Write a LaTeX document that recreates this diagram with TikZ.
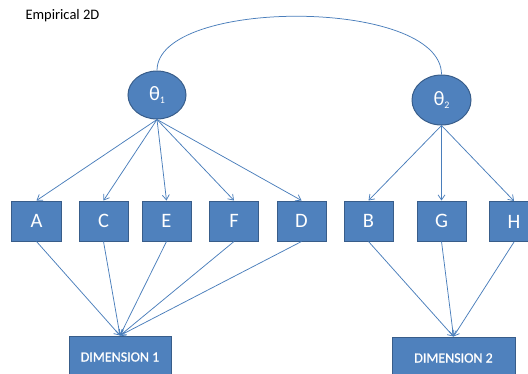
\documentclass[tikz,border=0pt]{standalone}
\usepackage{fontspec}
\setmainfont{Carlito}
\newfontfamily\heavyfont[FakeBold=0.8]{Carlito}
\usetikzlibrary{arrows.meta,shapes.geometric}
\definecolor{fillblue}{HTML}{4F81BD}
\definecolor{edgeblue}{HTML}{385D8A}
\definecolor{lineblue}{HTML}{4A7EBB}
\tikzset{
  boxnode/.style={draw=edgeblue, fill=fillblue, line width=1bp, minimum width=49bp, minimum height=40bp, inner sep=0pt, text=white, font=\fontsize{20.5bp}{22bp}\selectfont},
  latent/.style={ellipse, draw=edgeblue, fill=fillblue, line width=1bp, minimum width=58bp, minimum height=48bp, inner sep=0pt, text=white, font=\fontsize{20.5bp}{22bp}\selectfont},
  dimnode/.style={draw=edgeblue, fill=fillblue, line width=1bp, minimum height=42bp, inner sep=0pt, text=white, font=\heavyfont\fontsize{14bp}{16bp}\selectfont},
  link/.style={draw=lineblue, line width=0.75bp, -{Straight Barb[length=5bp,width=7bp]}},
}
\begin{document}
\begin{tikzpicture}[x=1bp,y=-1bp]
\useasboundingbox (0,0) rectangle (528,373);
\node[anchor=base west, font=\fontsize{14.5bp}{16bp}\selectfont] (title) at (22,19) {Empirical 2D};
\node[latent] (t1) at (157,95) {θ\raisebox{-0.3ex}{\fontsize{10bp}{11bp}\selectfont 1}};
\node[latent, minimum width=59bp, minimum height=50bp] (t2) at (441.5,100) {θ\raisebox{-0.3ex}{\fontsize{10bp}{11bp}\selectfont 2}};
\node[boxnode] (A) at (36.5,221) {A};
\node[boxnode] (C) at (103.5,221) {C};
\node[boxnode] (E) at (166.5,221) {E};
\node[boxnode] (F) at (234,221) {F};
\node[boxnode] (D) at (301.5,221) {D};
\node[boxnode] (B) at (368.5,221) {B};
\node[boxnode] (G) at (441.5,221) {G};
\node[boxnode] (H) at (514,221.5) {H};
\node[dimnode, minimum width=102bp] (d1) at (120,357) {DIMENSION 1};
\node[dimnode, minimum width=123bp] (d2) at (453.5,358) {DIMENSION 2};
\draw[draw=lineblue, line width=0.75bp] (t1.north) .. controls +(0,-73) and +(0,-77) .. (t2.north);
\foreach \n in {A,C,E,F,D} \draw[link] (t1.south) -- (\n.north);
\foreach \n in {B,G,H} \draw[link] (t2.south) -- (\n.north);
\foreach \n in {A,C,E,F,D} \draw[link] (\n.south) -- (d1.north);
\foreach \n in {B,G,H} \draw[link] (\n.south) -- (d2.north);
\end{tikzpicture}
\end{document}
